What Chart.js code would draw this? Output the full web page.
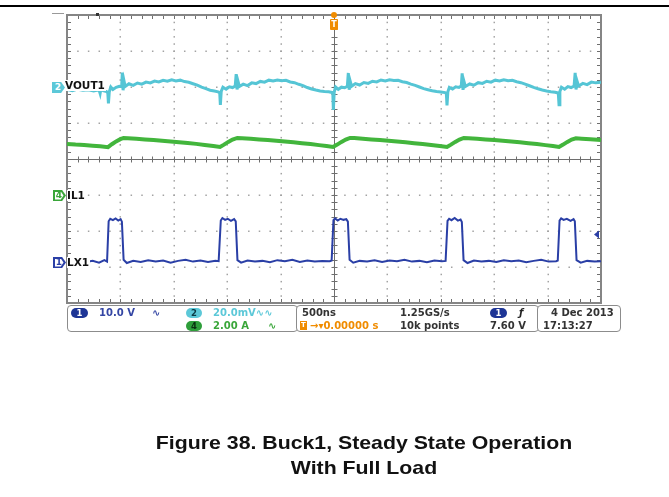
<!DOCTYPE html>
<html>
<head>
<meta charset="utf-8">
<script src="https://cdn.jsdelivr.net/npm/chart.js@4.4.0/dist/chart.umd.min.js"></script>
<style>
  html, body { margin: 0; padding: 0; background: #fff; }
  #wrap { position: relative; width: 669px; height: 497px; overflow: hidden; }
  #scope { position: absolute; left: 0; top: 0; }
  #rule { position: absolute; left: 0; top: 5px; width: 669px; height: 2px; background: #000; }
  .t { position: absolute; font-family: "DejaVu Sans", sans-serif; font-weight: bold; font-size: 10px; line-height: 12px; white-space: nowrap; }
  .name { position: absolute; font-family: "DejaVu Sans", sans-serif; font-weight: bold; font-size: 10.5px; line-height: 11px; color: #111; background: #fff; padding-right: 1px; }
  .mark { position: absolute; width: 13px; height: 11px; clip-path: polygon(0 0, 70% 0, 100% 50%, 70% 100%, 0 100%); }
  .mark .in { position: absolute; left: 1.5px; top: 1.5px; right: 2.5px; bottom: 1.5px; background: #fff; clip-path: polygon(0 0, 70% 0, 100% 50%, 70% 100%, 0 100%); }
  .mark span { position: absolute; left: 2px; top: 0; width: 8px; text-align: center; font-family: "DejaVu Sans", sans-serif; font-weight: bold; font-size: 9px; line-height: 11px; }
  .box { position: absolute; border: 1.5px solid #8c8c8c; border-radius: 4px; background: #fff; box-sizing: border-box; }
  .pill { position: absolute; height: 10px; border-radius: 5px; text-align: center; font-family: "DejaVu Sans", sans-serif; font-weight: bold; font-size: 8.5px; line-height: 10px; }
  #caption { position: absolute; left: 0; top: 430px; width: 728px; text-align: center; font-family: "Liberation Sans", Arial, sans-serif; font-weight: bold; font-size: 19px; line-height: 25px; color: #111; transform: scaleX(1.12); transform-origin: 364px 0; }
</style>
</head>
<body>
<div id="wrap">
  <canvas id="scope" width="669" height="497"></canvas>
  <div id="rule"></div>

  <!-- channel markers on the left edge -->
  <div class="mark" style="left:52px;top:82px;background:#5cc8d8;"><span style="color:#fff;">2</span></div>
  <div class="name" style="left:65px;top:80px;">VOUT1</div>
  <div class="mark" style="left:53px;top:190px;background:#3aa63a;"><div class="in"></div><span style="color:#3aa63a;">4</span></div>
  <div class="name" style="left:67px;top:190px;">IL1</div>
  <div class="mark" style="left:53px;top:257px;background:#2b3fa6;"><div class="in"></div><span style="color:#2b3fa6;">1</span></div>
  <div class="name" style="left:67px;top:257px;">LX1</div>

  <!-- trigger position marker -->
  <div class="t" style="left:330px;top:19px;width:8px;height:11px;background:#f08c00;color:#fff;font-size:8px;line-height:11px;text-align:center;border-radius:1px;">T</div>

  <!-- readout panel -->
  <div class="box" style="left:67px;top:305px;width:231px;height:27px;"></div>
  <div class="box" style="left:296px;top:305px;width:243px;height:27px;"></div>
  <div class="box" style="left:537px;top:305px;width:84px;height:27px;"></div>

  <div class="pill" style="left:71px;top:308px;width:17px;background:#1e3596;color:#fff;">1</div>
  <div class="t" style="left:99px;top:307px;color:#3446a4;">10.0 V</div>
  <div class="t" style="left:152px;top:307px;color:#3446a4;">∿</div>
  <div class="pill" style="left:186px;top:308px;width:16px;background:#5cc8d8;color:#0b3a44;">2</div>
  <div class="t" style="left:213px;top:307px;color:#5cc8d8;">20.0mV∿∿</div>
  <div class="pill" style="left:186px;top:321px;width:16px;background:#2e9e3a;color:#0a2e10;">4</div>
  <div class="t" style="left:213px;top:320px;color:#3aa63a;">2.00 A</div>
  <div class="t" style="left:268px;top:320px;color:#3aa63a;">∿</div>

  <div class="t" style="left:302px;top:307px;color:#333;">500ns</div>
  <div class="t" style="left:400px;top:307px;color:#333;">1.25GS/s</div>
  <div class="pill" style="left:490px;top:308px;width:17px;background:#1e3596;color:#fff;">1</div>
  <div class="t" style="left:519px;top:307px;color:#222;font-style:italic;">ƒ</div>
  <div class="t" style="left:300px;top:321px;width:7px;height:9px;background:#f08c00;color:#fff;font-size:7px;line-height:9px;text-align:center;">T</div>
  <div class="t" style="left:310px;top:320px;color:#f08c00;">→▾0.00000 s</div>
  <div class="t" style="left:400px;top:320px;color:#333;">10k points</div>
  <div class="t" style="left:490px;top:320px;color:#333;">7.60 V</div>

  <div class="t" style="left:551px;top:307px;color:#333;">4 Dec  2013</div>
  <div class="t" style="left:543px;top:320px;color:#333;">17:13:27</div>

  <div id="caption">Figure 38. Buck1, Steady State Operation<br>With Full Load</div>
</div>

<script>
// time base: 500 ns/div, 10 divisions, trigger at centre
var timePerDiv = 500;

// channel settings: scale per division and marker offset in divisions
var ch1PerDiv = 10, ch1Offset = -2.86;   // LX1, volts
var ch2PerDiv = 20, ch2Offset = 1.97;    // VOUT1, mV (AC)
var ch4PerDiv = 2,  ch4Offset = -1;      // IL1, amps
var trigLevel = 7.6;

// LX1 switch node (ns, V)
var lxTime = [
  -2500,-2440,-2380,-2320,-2260,-2200,-2150,-2125,
  -2110,-2095,-2070,-2045,-2020,-1998,-1986,
  -1970,-1940,-1880,-1810,-1740,-1670,-1600,-1530,-1460,-1390,-1320,-1250,-1180,-1110,-1080,
  -1060,-1045,-1020,-995,-965,-935,-920,
  -904,-870,-810,-740,-670,-600,-530,-460,-390,-320,-250,-180,-110,-40,-22,
  -5,10,35,60,90,115,130,
  146,180,240,310,380,450,520,590,660,730,800,870,940,1010,1045,
  1063,1078,1100,1130,1160,1185,1197,
  1213,1250,1310,1380,1450,1520,1590,1660,1730,1800,1870,1940,2010,2080,2095,
  2112,2127,2150,2180,2215,2243,2255,
  2271,2310,2370,2440,2500
];
var lxVolts = [
  0.2,-0.1,0.4,0.0,0.3,-0.2,0.5,0.1,
  11.3,12.0,11.6,12.1,11.5,11.9,11.2,
  0.6,-0.3,0.3,0.0,0.5,0.1,0.4,-0.2,0.3,0.6,0.1,0.4,0.0,0.3,0.2,
  11.5,12.2,11.7,12.0,11.4,11.9,11.3,
  0.5,-0.2,0.4,0.1,0.3,-0.1,0.5,0.2,0.6,0.0,0.4,0.1,0.3,0.2,0.4,
  11.6,12.1,11.5,12.0,11.7,11.9,11.2,
  0.6,-0.2,0.3,0.1,0.5,0.0,0.4,0.2,0.6,0.1,0.3,-0.1,0.4,0.2,0.3,
  11.4,12.0,11.6,12.2,11.5,11.8,11.1,
  0.5,-0.3,0.4,0.1,0.3,0.0,0.5,0.2,0.4,-0.1,0.3,0.6,0.1,0.2,0.4,
  11.5,12.1,11.7,12.0,11.4,11.9,11.3,
  0.5,-0.2,0.3,0.1,0.2
];

// IL1 inductor current (ns, A)
var ilTime = [
  -2500,-2420,-2340,-2260,-2190,-2116,-2080,-2040,-2000,-1970,-1930,-1850,-1770,-1690,-1610,-1530,-1450,-1370,-1290,-1210,-1130,
  -1067,-1030,-990,-950,-905,-860,-780,-700,-620,-540,-460,-380,-300,-220,-140,-70,
  -9,30,70,110,150,190,270,350,430,510,590,670,750,830,910,990,
  1058,1095,1135,1175,1215,1260,1340,1420,1500,1580,1660,1740,1820,1900,1980,2050,
  2107,2145,2185,2225,2265,2320,2400,2500
];
var ilAmps = [
  2.84,2.80,2.78,2.74,2.71,2.66,2.82,2.98,3.10,3.17,3.15,3.12,3.08,3.05,3.01,2.97,2.93,2.89,2.84,2.78,2.72,
  2.67,2.80,2.95,3.08,3.17,3.15,3.12,3.08,3.05,3.02,2.97,2.93,2.88,2.83,2.77,2.72,
  2.67,2.80,2.95,3.08,3.17,3.16,3.12,3.09,3.05,3.01,2.97,2.93,2.88,2.83,2.78,2.72,
  2.67,2.80,2.95,3.08,3.17,3.15,3.12,3.08,3.05,3.01,2.97,2.93,2.88,2.83,2.77,2.72,
  2.67,2.80,2.95,3.08,3.15,3.13,3.10,3.05
];

// VOUT1 ripple (ns, mV)
var voTime = [
  -2500,-2450,-2400,-2350,-2300,-2250,-2200,-2190,-2180,-2160,-2130,-2118,-2112,-2104,-2090,-2070,-2040,-2010,-1988,-1982,-1975,-1966,-1955,
  -1920,-1880,-1840,-1800,-1760,-1720,-1680,-1640,-1600,-1560,-1520,-1480,-1440,-1400,-1360,-1320,-1280,-1240,-1200,-1160,-1120,-1085,
  -1070,-1064,-1056,-1040,-1010,-980,-950,-925,-916,-908,-898,-886,
  -850,-810,-770,-730,-690,-650,-610,-570,-530,-490,-450,-410,-370,-330,-290,-250,-210,-170,-130,-90,-50,-20,
  -11,-6,2,15,40,70,100,125,134,142,152,165,
  200,240,280,320,360,400,440,480,520,560,600,640,680,720,760,800,840,880,920,960,1000,1040,
  1052,1058,1066,1080,1110,1140,1170,1192,1200,1208,1218,1230,
  1270,1310,1350,1390,1430,1470,1510,1550,1590,1630,1670,1710,1750,1790,1830,1870,1910,1950,1990,2030,2070,
  2100,2107,2115,2130,2160,2190,2220,2248,2258,2266,2276,2290,
  2330,2370,2410,2450,2500
];
var voMilli = [
  -0.8,-1.4,-0.6,-1.2,-0.9,-1.6,-1.0,-3.0,0.5,-1.5,-2.0,-2.6,-8.5,-2.0,0.6,-0.8,0.4,1.0,0.8,8.6,-1.2,4.0,0.9,
  2.4,1.5,2.8,2.2,3.3,2.9,3.9,3.4,4.3,3.8,4.6,4.0,4.4,3.6,3.2,2.4,1.6,0.5,-0.3,-1.2,-1.6,-2.1,
  -2.6,-9.4,-1.8,0.5,-0.6,0.7,0.3,1.1,7.8,-0.8,3.6,0.9,
  2.2,1.4,2.9,2.5,3.7,3.3,4.4,3.9,4.5,4.1,4.3,3.4,3.0,2.1,1.4,0.3,-0.5,-1.1,-1.6,-1.9,-2.1,-2.4,
  -2.8,-12.2,-2.2,0.6,-0.7,0.5,0.2,1.0,8.4,-0.9,3.8,1.0,
  2.5,1.7,3.1,2.6,3.8,3.4,4.5,4.0,4.6,4.2,4.3,3.5,3.1,2.2,1.5,0.6,-0.3,-0.9,-1.5,-1.9,-2.2,-2.5,
  -2.9,-9.6,-2.0,0.4,-0.5,0.7,0.4,1.2,8.2,-1.0,3.5,0.9,
  2.3,1.6,3.0,2.6,3.8,3.3,4.4,3.9,4.6,4.1,4.3,3.5,3.0,2.2,1.3,0.4,-0.4,-1.1,-1.6,-2.0,-2.3,
  -2.7,-9.2,-1.9,0.5,-0.6,0.8,0.3,1.1,8.5,-0.8,3.9,1.2,
  2.6,1.9,3.3,2.9,3.2
];

function pairs(xs, ys) {
  return xs.map(function (t, i) { return { x: t, y: ys[i] }; });
}

// scope graticule, drawn from the chart's own scales
var graticule = {
  id: 'graticule',
  beforeDatasetsDraw: function (chart) {
    var c = chart.ctx, a = chart.chartArea;
    var xs = chart.scales.x, gs = chart.scales.grid;
    var i, j, px, py;
    c.save();
    c.fillStyle = '#a3a3a3';
    for (i = -4; i <= 4; i++) {
      if (i === 0) continue;
      px = xs.getPixelForValue(i * timePerDiv);
      for (j = -20; j <= 20; j++) {
        py = gs.getPixelForValue(j * 0.2);
        c.fillRect(Math.round(px) - 0.5, py - 0.5, 1.5, 1.5);
      }
    }
    for (i = -3; i <= 3; i++) {
      if (i === 0) continue;
      py = gs.getPixelForValue(i);
      for (j = -25; j <= 25; j++) {
        px = xs.getPixelForValue(j * timePerDiv / 5);
        c.fillRect(px - 0.5, Math.round(py) - 0.5, 1.5, 1.5);
      }
    }
    // centre axes with minor ticks
    var cx = Math.round(xs.getPixelForValue(0)) + 0.5;
    var cy = Math.round(gs.getPixelForValue(0)) + 0.5;
    c.strokeStyle = '#6e6e6e';
    c.lineWidth = 1;
    c.beginPath();
    c.moveTo(cx, a.top); c.lineTo(cx, a.bottom);
    c.moveTo(a.left, cy); c.lineTo(a.right, cy);
    for (j = -20; j <= 20; j++) {
      py = Math.round(gs.getPixelForValue(j * 0.2)) + 0.5;
      c.moveTo(cx - 3, py); c.lineTo(cx + 3, py);
      c.moveTo(a.left, py); c.lineTo(a.left + 4, py);
      c.moveTo(a.right, py); c.lineTo(a.right - 4, py);
    }
    for (j = -25; j <= 25; j++) {
      px = Math.round(xs.getPixelForValue(j * timePerDiv / 5)) + 0.5;
      c.moveTo(px, cy - 3); c.lineTo(px, cy + 3);
      c.moveTo(px, a.top); c.lineTo(px, a.top + 4);
      c.moveTo(px, a.bottom); c.lineTo(px, a.bottom - 4);
    }
    c.stroke();
    // frame
    c.strokeStyle = '#858585';
    c.lineWidth = 2;
    c.strokeRect(a.left, a.top, a.right - a.left, a.bottom - a.top);
    // small marks on the top edge
    c.fillStyle = '#999';
    c.fillRect(52, 13, 12, 1);
    c.fillStyle = '#333';
    c.fillRect(96, 13, 3, 3);
    // trigger position dot
    c.fillStyle = '#f08c00';
    c.beginPath();
    c.arc(xs.getPixelForValue(0), a.top, 3, 0, Math.PI * 2);
    c.fill();
    c.restore();
  },
  afterDatasetsDraw: function (chart) {
    var c = chart.ctx, a = chart.chartArea;
    var ty = chart.scales.yLX.getPixelForValue(trigLevel);
    c.save();
    c.fillStyle = '#2b3fa6';
    c.beginPath();
    c.moveTo(a.right - 7, ty);
    c.lineTo(a.right - 2, ty - 4);
    c.lineTo(a.right - 2, ty + 4);
    c.closePath();
    c.fill();
    c.restore();
  }
};

var ctx = document.getElementById('scope');
var scopeChart = new Chart(ctx, {
  type: 'line',
  data: {
    datasets: [{
      label: 'IL1',
      data: pairs(ilTime, ilAmps),
      yAxisID: 'yIL',
      borderColor: '#42b53c',
      borderWidth: 4
    }, {
      label: 'VOUT1',
      data: pairs(voTime, voMilli),
      yAxisID: 'yVO',
      borderColor: '#55c5d5',
      borderWidth: 3
    }, {
      label: 'LX1',
      data: pairs(lxTime, lxVolts),
      yAxisID: 'yLX',
      borderColor: '#2a3fa6',
      borderWidth: 2
    }]
  },
  options: {
    responsive: false,
    animation: false,
    events: [],
    layout: { padding: { left: 67, right: 68, top: 15, bottom: 194 } },
    elements: { point: { radius: 0 }, line: { tension: 0 } },
    plugins: { legend: { display: false }, tooltip: { enabled: false } },
    scales: {
      x: { type: 'linear', axis: 'x', min: -5 * timePerDiv, max: 5 * timePerDiv, display: false },
      grid: { type: 'linear', axis: 'y', min: -4, max: 4, display: false },
      yLX: { type: 'linear', axis: 'y', min: (-4 - ch1Offset) * ch1PerDiv, max: (4 - ch1Offset) * ch1PerDiv, display: false },
      yVO: { type: 'linear', axis: 'y', min: (-4 - ch2Offset) * ch2PerDiv, max: (4 - ch2Offset) * ch2PerDiv, display: false },
      yIL: { type: 'linear', axis: 'y', min: (-4 - ch4Offset) * ch4PerDiv, max: (4 - ch4Offset) * ch4PerDiv, display: false }
    }
  },
  plugins: [graticule]
});
</script>
</body>
</html>
